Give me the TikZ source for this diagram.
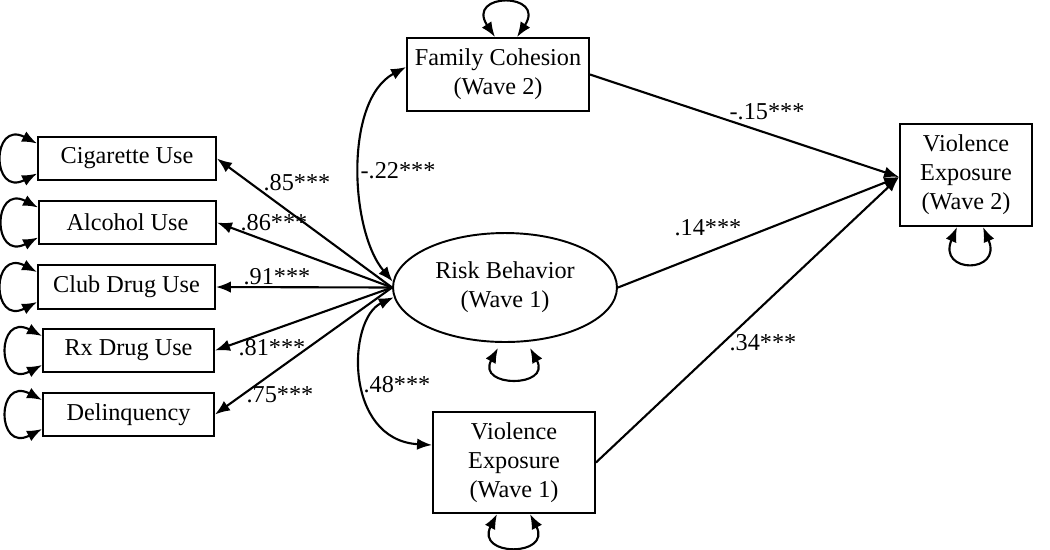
\documentclass[tikz,border=0pt]{standalone}
\usepackage{fontspec}
\setmainfont{Liberation Serif}
\usetikzlibrary{shapes.geometric,arrows.meta}

\begin{document}
\begin{tikzpicture}[x=0.02cm,y=-0.02cm,
  font=\fontsize{13.8}{16.5}\selectfont,
  >={Latex[length=3mm,width=2.3mm]},
  box/.style={draw,line width=1.1pt,inner sep=0pt,align=center},
  path/.style={->,line width=1.2pt},
  cov/.style={<->,line width=1.2pt},
  lab/.style={inner sep=0pt}]
  \useasboundingbox (0,0) rectangle (1050,549);

  % indicators
  \node[box,minimum width=3.56cm,minimum height=0.86cm] (cig)   at (127,158.5)   {Cigarette Use};
  \node[box,minimum width=3.54cm,minimum height=0.86cm] (alc)   at (127.5,222.5) {Alcohol Use};
  \node[box,minimum width=3.54cm,minimum height=0.88cm] (club)  at (126.5,287)   {Club Drug Use};
  \node[box,minimum width=3.42cm,minimum height=0.86cm] (rx)    at (128.5,350.5) {Rx Drug Use};
  \node[box,minimum width=3.42cm,minimum height=0.86cm] (delq)  at (128.5,414.5) {Delinquency};

  % latent and observed
  \node[box,ellipse,minimum width=4.48cm,minimum height=2.18cm] (rb) at (505,287.5) {Risk Behavior\\(Wave 1)};
  \node[box,minimum width=3.64cm,minimum height=1.46cm] (fc)  at (498,74.5)  {Family Cohesion\\(Wave 2)};
  \node[box,minimum width=3.24cm,minimum height=2.02cm] (ve1) at (514,462.5) {Violence\\Exposure\\(Wave 1)};
  \node[box,minimum width=2.64cm,minimum height=2.04cm] (ve2) at (966,175)   {Violence\\Exposure\\(Wave 2)};

  % loadings
  \draw[path] (rb.west) -- (cig.east);
  \draw[path] (rb.west) -- (alc.east);
  \draw[path] (rb.west) -- (club.east);
  \draw[path] (rb.west) -- (rx.east);
  \draw[path] (rb.west) -- (delq.east);

  % regressions
  \draw[path] (fc.east)  -- ([yshift=-0.04cm]ve2.west);
  \draw[path] (rb.east)  -- ([yshift=-0.04cm]ve2.west);
  \draw[path] (ve1.east) -- ([yshift=-0.04cm]ve2.west);

  % covariances
  \draw[cov] (rb.177) .. controls +(-43,-51) and +(-62,33) .. ([yshift=0.15cm]fc.west);
  \draw[cov] (rb.185) .. controls +(-47,22) and +(-88,-5) .. ([yshift=0.35cm]ve1.west);

  % residual variances
  \draw[cov] ([yshift=0.3cm]cig.west)  .. controls +(-46,-24) and +(-46,24) .. ([yshift=-0.3cm]cig.west);
  \draw[cov] ([yshift=0.3cm]alc.west)  .. controls +(-46,-24) and +(-46,24) .. ([yshift=-0.3cm]alc.west);
  \draw[cov] ([yshift=0.3cm]club.west) .. controls +(-46,-24) and +(-46,24) .. ([yshift=-0.3cm]club.west);
  \draw[cov] ([yshift=0.29cm]rx.west)   .. controls +(-46,-24) and +(-46,24) .. ([yshift=-0.29cm]rx.west);
  \draw[cov] ([yshift=0.29cm]delq.west) .. controls +(-46,-24) and +(-46,24) .. ([yshift=-0.29cm]delq.west);
  \draw[cov] ([xshift=-0.06cm]fc.north) .. controls +(-30,-45) and +(30,-45) .. ([xshift=0.38cm]fc.north);
  \draw[cov] ([xshift=-0.14cm,yshift=-0.1cm]rb.south) .. controls +(-22,40) and +(22,40) .. ([xshift=0.5cm,yshift=-0.1cm]rb.south);
  \draw[cov] ([xshift=-0.34cm]ve1.south) .. controls +(-22,43) and +(22,43) .. ([xshift=0.32cm]ve1.south);
  \draw[cov] ([xshift=-0.18cm]ve2.south) .. controls +(-20,47) and +(20,47) .. ([xshift=0.34cm]ve2.south);

  % estimates
  \node[lab] (l85) at (297,183) {.85***};
  \node[lab] (l86) at (274,223) {.86***};
  \node[lab] (l91) at (277,277) {.91***};
  \node[lab] (l81) at (272,348) {.81***};
  \node[lab] (l75) at (280,395) {.75***};
  \node[lab] (l22) at (398,171) {-.22***};
  \node[lab] (l48) at (397,385) {.48***};
  \node[lab] (l15) at (767,112) {-.15***};
  \node[lab] (l14) at (708,228) {.14***};
  \node[lab] (l34) at (763,343) {.34***};
\end{tikzpicture}
\end{document}
